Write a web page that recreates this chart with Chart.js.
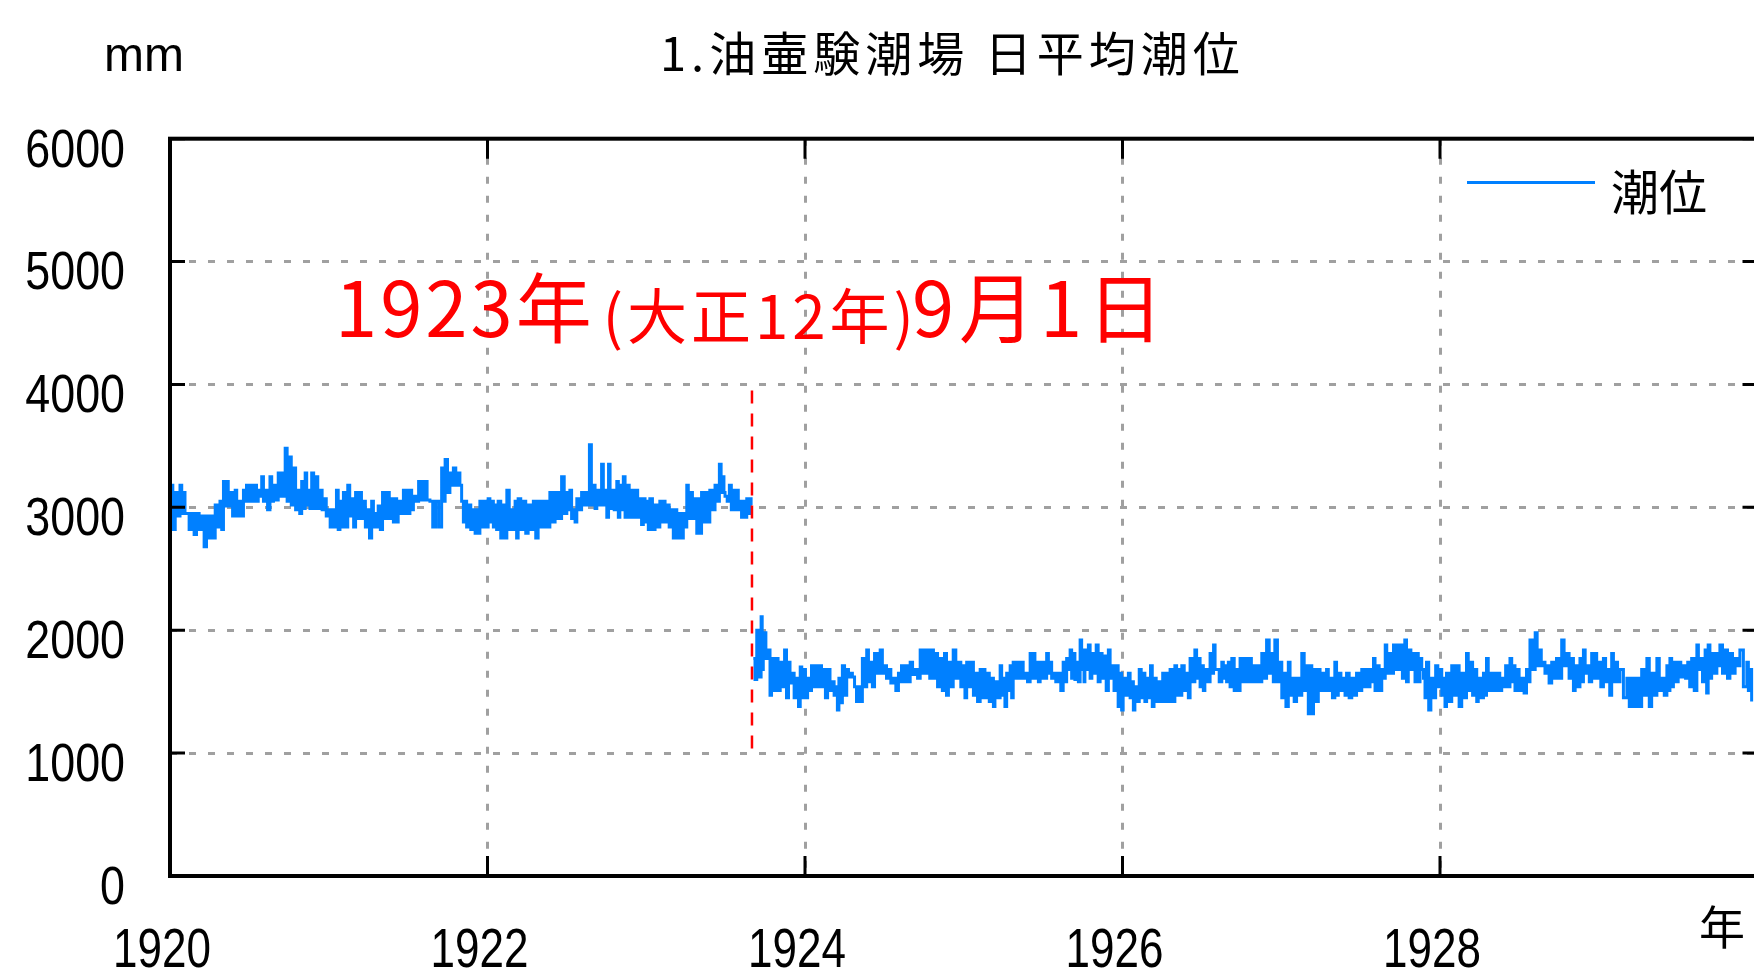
<!DOCTYPE html>
<html lang="ja">
<head>
<meta charset="utf-8">
<title>油壷験潮場 日平均潮位</title>
<script src="https://cdn.jsdelivr.net/npm/chart.js@4.4.1/dist/chart.umd.min.js"></script>
<style>
  html, body { margin: 0; padding: 0; background: #fff; overflow: hidden; }
  canvas { display: block; }
</style>
</head>
<body>
<canvas id="tide" width="1790" height="979"></canvas>
<script>
// Daily mean sea level at the Aburatsubo tide station, 1920–1929 (mm).
// Each entry is a short run of days: the day it starts on (days since
// 1920-01-01) and the highest and lowest daily mean within that run.

// Before the Great Kanto earthquake
const daysBefore = [
  1, 12, 23, 31, 38, 50, 61, 73, 84, 94,
  104, 115, 123, 130, 138, 150, 157, 169, 176, 186,
  195, 203, 211, 219, 230, 238, 249, 257, 265, 274,
  284, 294, 303, 311, 318, 326, 335, 345, 355, 364,
  373, 383, 391, 399, 409, 418, 427, 436, 445, 454,
  464, 472, 479, 489, 499, 510, 518, 525, 537, 545,
  552, 560, 572, 585, 598, 611, 625, 633, 644, 652,
  663, 671,
  679, 686, 698, 706, 713, 722, 732, 740, 748, 755,
  767, 775, 786, 794, 801, 813, 824, 836, 847, 857,
  866, 874, 886, 893, 901, 913, 920, 928, 936, 947,
  956, 965, 974, 982, 993, 1001, 1009, 1016, 1028, 1035,
  1043, 1051, 1062, 1071, 1081, 1089, 1097, 1104, 1116, 1127,
  1135, 1143, 1154, 1162, 1170, 1181, 1189, 1196, 1208, 1216,
  1223, 1232, 1242, 1254, 1264, 1272, 1277, 1287, 1296, 1304,
  1311, 1319, 1327, 1335
];
const highBefore = [
  3180, 3120, 3180, 3120, 2950, 2950, 2950, 2930, 2930, 2930,
  3020, 3050, 3210, 3210, 3120, 3140, 3050, 3140, 3180, 3180,
  3180, 3140, 3250, 3140, 3250, 3180, 3280, 3280, 3480, 3410,
  3320, 3140, 3210, 3280, 3140, 3280, 3250, 3140, 3070, 2980,
  2980, 3140, 3050, 3120, 3180, 3070, 3120, 3120, 3050, 2980,
  3050, 2950, 3010, 3120, 3120, 3070, 3070, 3050, 3140, 3140,
  3140, 3090, 3210, 3210, 3050, 3050, 3320, 3390, 3280, 3320,
  3280, 3050,
  3050, 3020, 2980, 2980, 3050, 3050, 3070, 3050, 3020, 3050,
  3020, 3140, 2980, 3050, 3070, 3050, 3020, 3050, 3050, 3050,
  3050, 3120, 3120, 3120, 3250, 3120, 3140, 2980, 3070, 3120,
  3120, 3510, 3180, 3140, 3350, 3140, 3350, 3140, 3210, 3180,
  3250, 3180, 3140, 3140, 3070, 3070, 3050, 3070, 3020, 3050,
  3050, 3020, 2980, 2980, 2950, 2950, 3180, 3120, 3070, 3070,
  3120, 3120, 3140, 3180, 3350, 3250, 3090, 3180, 3140, 3140,
  3050, 3050, 3070, 3070
];
const lowBefore = [
  2820, 2930, 2950, 2950, 2820, 2780, 2820, 2680, 2750, 2750,
  2840, 2820, 3010, 3010, 2930, 2930, 2930, 3050, 3050, 3050,
  3050, 3090, 3050, 2980, 3050, 3060, 3090, 3090, 3050, 3020,
  2980, 2950, 2990, 3020, 2990, 2990, 2990, 2980, 2930, 2840,
  2840, 2820, 2840, 2840, 2930, 2840, 2910, 2910, 2840, 2750,
  2840, 2840, 2820, 2910, 2910, 2880, 2880, 2950, 2950, 2950,
  2980, 3050, 3060, 3060, 2840, 2840, 3050, 3120, 3180, 3180,
  3180, 2880,
  2840, 2820, 2790, 2790, 2840, 2840, 2880, 2840, 2820, 2750,
  2750, 2820, 2820, 2750, 2820, 2790, 2820, 2750, 2840, 2840,
  2840, 2880, 2910, 2910, 2950, 2980, 2910, 2880, 2980, 3020,
  3020, 3020, 2990, 3020, 3020, 2920, 2990, 2980, 2920, 2980,
  2920, 2920, 2920, 2920, 2860, 2880, 2820, 2820, 2840, 2880,
  2880, 2840, 2750, 2750, 2750, 2840, 2910, 2910, 2790, 2790,
  2880, 2880, 2980, 3050, 3120, 3120, 3050, 2980, 2980, 2980,
  2920, 2920, 2950, 3020
];

// After the earthquake
const daysAfter = [
  1342, 1350, 1360, 1365, 1377, 1384, 1394, 1404, 1414, 1423,
  1430, 1442, 1450, 1457, 1467, 1476, 1486, 1495, 1503, 1513,
  1524, 1532, 1539, 1547, 1557, 1565, 1575, 1584, 1593, 1603,
  1611, 1621, 1634, 1644, 1653, 1664, 1676, 1683, 1693, 1703,
  1714, 1726, 1735, 1743, 1753, 1760, 1772, 1782, 1791, 1802,
  1814, 1825, 1833, 1845, 1852, 1864, 1871, 1879, 1891, 1898,
  1910, 1917, 1925, 1933, 1940, 1950, 1959, 1967, 1979, 1986,
  1994, 2002, 2009, 2017, 2025, 2032, 2044, 2055, 2063, 2071,
  2078, 2086, 2094, 2101,
  2105, 2113, 2121, 2131, 2140, 2149, 2159, 2167, 2177, 2186,
  2193, 2205, 2213, 2220, 2230, 2239, 2247, 2256, 2264, 2274,
  2284, 2293, 2301, 2312, 2320, 2328, 2339, 2347, 2358, 2366,
  2374, 2381, 2393, 2401, 2408, 2420, 2427, 2435, 2443, 2454,
  2462, 2473, 2483, 2493, 2502, 2512, 2523, 2535, 2542, 2554,
  2562, 2573, 2581, 2592, 2604, 2615, 2623, 2631, 2642, 2650,
  2661, 2669, 2680, 2688, 2700, 2707, 2719, 2730, 2742, 2751,
  2761, 2769, 2776, 2788, 2796, 2803, 2815, 2822, 2830, 2841,
  2849, 2861, 2868,
  2876, 2884, 2891, 2901, 2912, 2922, 2930, 2937, 2949, 2960,
  2972, 2983, 2991, 3003, 3010, 3022, 3029, 3037, 3046, 3055,
  3064, 3073, 3083, 3091, 3098, 3110, 3121, 3129, 3141, 3150,
  3160, 3167, 3179, 3190, 3202, 3213, 3225, 3233, 3244, 3252,
  3260, 3271, 3279, 3286, 3298, 3308, 3317, 3325, 3336, 3352,
  3363, 3375, 3386, 3398, 3409, 3421, 3432, 3444, 3451, 3459,
  3470, 3482, 3492, 3501, 3513, 3520, 3532, 3539, 3547, 3559,
  3566, 3578, 3589, 3601, 3612, 3628, 3635
];
const highAfter = [
  1770, 2000, 2110, 1980, 1840, 1770, 1770, 1740, 1840, 1740,
  1650, 1610, 1700, 1680, 1610, 1710, 1710, 1710, 1680, 1680,
  1580, 1540, 1610, 1710, 1680, 1650, 1540, 1540, 1770, 1840,
  1740, 1810, 1840, 1710, 1680, 1610, 1650, 1710, 1710, 1740,
  1680, 1840, 1840, 1840, 1840, 1810, 1770, 1810, 1740, 1840,
  1740, 1710, 1740, 1740, 1650, 1680, 1680, 1650, 1610, 1580,
  1710, 1610, 1650, 1710, 1740, 1740, 1740, 1650, 1810, 1810,
  1740, 1740, 1740, 1810, 1740, 1650, 1650, 1740, 1770, 1840,
  1810, 1740, 1920, 1840,
  1840, 1880, 1810, 1880, 1810, 1790, 1840, 1710, 1710, 1650,
  1610, 1650, 1580, 1540, 1680, 1650, 1610, 1710, 1610, 1580,
  1650, 1650, 1680, 1710, 1680, 1710, 1650, 1770, 1840, 1770,
  1710, 1680, 1810, 1880, 1680, 1740, 1710, 1740, 1770, 1680,
  1770, 1770, 1770, 1710, 1710, 1810, 1920, 1810, 1920, 1740,
  1650, 1740, 1610, 1610, 1810, 1710, 1710, 1680, 1680, 1650,
  1680, 1610, 1740, 1650, 1610, 1650, 1610, 1650, 1680, 1680,
  1680, 1770, 1710, 1680, 1880, 1810, 1880, 1880, 1880, 1920,
  1840, 1810, 1810,
  1770, 1610, 1740, 1610, 1710, 1680, 1610, 1650, 1710, 1710,
  1650, 1810, 1740, 1680, 1610, 1650, 1770, 1650, 1650, 1650,
  1610, 1710, 1770, 1710, 1680, 1610, 1680, 1920, 1980, 1840,
  1740, 1710, 1740, 1770, 1920, 1810, 1770, 1710, 1770, 1840,
  1710, 1810, 1810, 1740, 1770, 1680, 1810, 1740, 1680, 1610,
  1610, 1610, 1680, 1770, 1650, 1770, 1610, 1710, 1770, 1740,
  1740, 1710, 1740, 1770, 1880, 1770, 1840, 1880, 1810, 1810,
  1880, 1840, 1810, 1770, 1840, 1740, 1680
];
const lowAfter = [
  1600, 1620, 1680, 1770, 1470, 1510, 1510, 1540, 1450, 1570,
  1450, 1380, 1450, 1450, 1510, 1540, 1540, 1540, 1450, 1510,
  1470, 1350, 1410, 1470, 1620, 1620, 1420, 1420, 1540, 1580,
  1540, 1650, 1650, 1610, 1570, 1510, 1580, 1580, 1580, 1640,
  1610, 1650, 1650, 1610, 1610, 1540, 1510, 1470, 1540, 1610,
  1540, 1450, 1540, 1470, 1420, 1450, 1450, 1420, 1380, 1450,
  1470, 1380, 1510, 1450, 1610, 1610, 1610, 1580, 1610, 1610,
  1580, 1610, 1610, 1650, 1610, 1580, 1510, 1580, 1680, 1610,
  1600, 1580, 1680, 1580,
  1680, 1610, 1650, 1580, 1610, 1510, 1610, 1510, 1380, 1350,
  1470, 1450, 1350, 1420, 1450, 1420, 1450, 1380, 1420, 1420,
  1420, 1420, 1420, 1470, 1470, 1510, 1450, 1580, 1610, 1540,
  1510, 1580, 1650, 1680, 1580, 1610, 1580, 1540, 1510, 1510,
  1580, 1580, 1580, 1580, 1580, 1610, 1650, 1580, 1580, 1450,
  1380, 1470, 1420, 1470, 1510, 1320, 1320, 1420, 1510, 1510,
  1510, 1450, 1470, 1510, 1470, 1450, 1470, 1510, 1540, 1540,
  1580, 1510, 1510, 1610, 1650, 1650, 1680, 1680, 1610, 1580,
  1680, 1580, 1580,
  1680, 1450, 1350, 1450, 1540, 1470, 1380, 1420, 1470, 1380,
  1450, 1510, 1470, 1420, 1450, 1470, 1510, 1510, 1510, 1510,
  1540, 1540, 1580, 1510, 1510, 1490, 1580, 1680, 1710, 1710,
  1650, 1570, 1610, 1610, 1710, 1610, 1510, 1540, 1580, 1650,
  1580, 1610, 1610, 1540, 1580, 1470, 1580, 1580, 1450, 1380,
  1380, 1380, 1470, 1380, 1470, 1510, 1470, 1510, 1540, 1580,
  1620, 1610, 1540, 1510, 1680, 1580, 1490, 1610, 1650, 1710,
  1650, 1610, 1650, 1710, 1540, 1510, 1420
];

// 1923-09-01, marked by the red dashed line (from 3950 mm down to 1000 mm)
const quakeDay = 1339;
const quakeMark = [3950, 1000];

const yearTicks = [1920, 1922, 1924, 1926, 1928];
const levelTicks = [0, 1000, 2000, 3000, 4000, 5000, 6000];

const toYear = d => 1920 + d / 365.25;

// Each run is drawn from its high to its low, giving the daily band.
function runPoints(days, highs, lows, endDay) {
  const pts = [];
  for (let i = 0; i < days.length; i++) {
    const next = i + 1 < days.length ? days[i + 1] : endDay;
    pts.push({ x: toYear(days[i]), y: highs[i] });
    pts.push({ x: toYear((days[i] + next) / 2), y: lows[i] });
  }
  return pts;
}

const tidePoints = [
  ...runPoints(daysBefore, highBefore, lowBefore, quakeDay),
  { x: toYear(quakeDay), y: null },
  ...runPoints(daysAfter, highAfter, lowAfter, 3643)
];

const SANS = '"Liberation Sans", Arial, sans-serif';
const CJK = '"Noto Sans CJK JP", "Noto Sans CJK SC", sans-serif';
const TIDE_BLUE = '#0080ff';

// Narrow-set text: a regular face squeezed horizontally.
function narrowText(ctx, text, x, y, size, align, squeeze) {
  ctx.save();
  ctx.font = size + 'px ' + SANS;
  ctx.textAlign = align;
  ctx.textBaseline = 'middle';
  ctx.translate(x, y);
  ctx.scale(squeeze, 1);
  ctx.fillText(text, 0, 0);
  ctx.restore();
}

const decorations = {
  id: 'decorations',
  afterDatasetsDraw(chart) {
    const { ctx, chartArea: a, scales: { x, y } } = chart;
    ctx.save();
    ctx.strokeStyle = '#000';
    ctx.lineWidth = 3;
    ctx.beginPath();
    levelTicks.forEach(v => {
      const py = y.getPixelForValue(v);
      ctx.moveTo(a.left, py); ctx.lineTo(a.left + 15, py);
      ctx.moveTo(a.right, py); ctx.lineTo(a.right - 15, py);
    });
    yearTicks.forEach(v => {
      const px = x.getPixelForValue(v);
      ctx.moveTo(px, a.bottom); ctx.lineTo(px, a.bottom - 20);
      ctx.moveTo(px, a.top); ctx.lineTo(px, a.top + 20);
    });
    ctx.stroke();
    ctx.lineWidth = 4;
    ctx.strokeRect(a.left, a.top, a.right - a.left, a.bottom - a.top);
    ctx.restore();
  },
  afterDraw(chart) {
    const { ctx, chartArea: a, scales: { x, y } } = chart;
    ctx.save();
    ctx.fillStyle = '#000';

    // tick labels
    levelTicks.forEach(v => narrowText(ctx, String(v), a.left - 45, y.getPixelForValue(v) + 13, 54, 'right', 0.83));
    yearTicks.forEach(v => narrowText(ctx, String(v), x.getPixelForValue(v) - 8, a.bottom + 76, 55, 'center', 0.8));

    // title
    ctx.textAlign = 'left';
    ctx.textBaseline = 'alphabetic';
    ctx.font = '47px ' + CJK;
    ctx.letterSpacing = '5px';
    ctx.fillText('1.油壷験潮場 日平均潮位', 660, 71);
    ctx.letterSpacing = '0px';

    // unit and axis captions
    ctx.font = '48px ' + SANS;
    ctx.fillText('mm', 104, 71);
    ctx.font = '46px ' + CJK;
    ctx.textAlign = 'center';
    ctx.textBaseline = 'middle';
    ctx.fillText('年', 1722, 927);

    // legend
    const ds = chart.data.datasets[0];
    ctx.strokeStyle = ds.borderColor;
    ctx.lineWidth = 3;
    ctx.beginPath();
    ctx.moveTo(1467, 182.5);
    ctx.lineTo(1595, 182.5);
    ctx.stroke();
    ctx.textAlign = 'left';
    ctx.textBaseline = 'alphabetic';
    ctx.font = '48px ' + CJK;
    ctx.fillText(ds.label, 1611, 210);

    // date of the earthquake
    ctx.fillStyle = '#ff0000';
    let tx = a.left + 165;
    const parts = [['1923年', 76, 337, 3, 8], ['(大正12年)', 60, 339, 4, -6], ['9月1日', 76, 337, 5, 0]];
    parts.forEach(([t, size, base, spacing, gap]) => {
      ctx.font = size + 'px ' + CJK;
      ctx.letterSpacing = spacing + 'px';
      ctx.fillText(t, tx, base);
      tx += ctx.measureText(t).width + gap;
    });
    ctx.letterSpacing = '0px';
    ctx.restore();
  }
};

const gridStyle = { color: '#a0a0a0', lineWidth: 3, drawTicks: false };
const gridBorder = { display: false, dash: [7, 12] };

new Chart(document.getElementById('tide'), {
  type: 'line',
  data: {
    datasets: [
      {
        label: '潮位',
        data: tidePoints,
        borderColor: TIDE_BLUE,
        borderWidth: 3,
        pointRadius: 0,
        stepped: true,
        spanGaps: false,
        order: 0
      },
      {
        label: '1923年9月1日',
        data: quakeMark.map(v => ({ x: toYear(quakeDay), y: v })),
        borderColor: '#ff0000',
        borderWidth: 2.5,
        borderDash: [13, 10],
        pointRadius: 0,
        order: -1
      }
    ]
  },
  options: {
    responsive: false,
    animation: false,
    events: [],
    layout: { padding: { left: 0, top: 138.7, right: 32.5, bottom: 0 } },
    plugins: {
      legend: { display: false },
      title: { display: false },
      tooltip: { enabled: false }
    },
    scales: {
      x: {
        type: 'linear',
        min: 1920,
        max: 1930,
        afterBuildTicks: s => { s.ticks = yearTicks.map(v => ({ value: v })); },
        afterFit: s => { s.height = 103; },
        ticks: { display: false },
        grid: gridStyle,
        border: gridBorder
      },
      y: {
        min: 0,
        max: 6000,
        afterBuildTicks: s => { s.ticks = levelTicks.map(v => ({ value: v })); },
        afterFit: s => { s.width = 170; },
        ticks: { display: false },
        grid: gridStyle,
        border: gridBorder
      }
    }
  },
  plugins: [decorations]
});
</script>
</body>
</html>
